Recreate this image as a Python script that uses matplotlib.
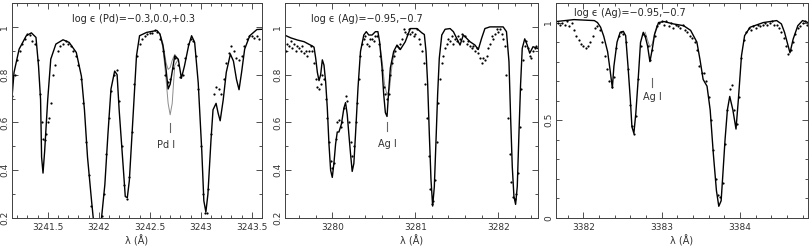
import numpy as np
import matplotlib.pyplot as plt
from matplotlib.ticker import MultipleLocator

# ------------------------------------------------------------
# Panel 1: Pd I 3242.7
# ------------------------------------------------------------
pd_syn_wl = [3241.143, 3241.17, 3241.22, 3241.29, 3241.34, 3241.385, 3241.41, 3241.43, 3241.44,
             3241.454, 3241.47, 3241.50, 3241.53, 3241.58, 3241.65, 3241.71, 3241.78, 3241.83,
             3241.86, 3241.89, 3241.93, 3241.96, 3241.99, 3242.025, 3242.06, 3242.09, 3242.12,
             3242.156, 3242.18, 3242.20, 3242.24, 3242.26, 3242.28, 3242.30, 3242.34, 3242.37,
             3242.40, 3242.47, 3242.57, 3242.60, 3242.63, 3242.66, 3242.68, 3242.70, 3242.745,
             3242.78, 3242.81, 3242.84, 3242.88, 3242.91, 3242.94, 3242.975, 3243.01, 3243.03,
             3243.05, 3243.07, 3243.10, 3243.12, 3243.15, 3243.17, 3243.19, 3243.22, 3243.25,
             3243.29, 3243.32, 3243.35, 3243.375, 3243.40, 3243.43, 3243.48, 3243.55, 3243.60]
pd_syn_fl = [0.667, 0.81, 0.907, 0.963, 0.975, 0.956, 0.836, 0.695, 0.455,
             0.388, 0.48, 0.695, 0.865, 0.928, 0.946, 0.935, 0.893, 0.794,
             0.653, 0.455, 0.27, 0.14, 0.10, 0.19, 0.34, 0.55, 0.74,
             0.815, 0.80, 0.653, 0.413, 0.29, 0.285, 0.357, 0.653, 0.879,
             0.963, 0.977, 0.985, 0.97, 0.92, 0.82, 0.74, 0.76, 0.879,
             0.864, 0.785, 0.836, 0.92, 0.963, 0.935, 0.766, 0.48, 0.272,
             0.225, 0.30, 0.526, 0.653, 0.68, 0.639, 0.607, 0.695, 0.81,
             0.886, 0.857, 0.78, 0.737, 0.81, 0.907, 0.963, 0.989, 0.99]
pd_hi_wl = [3242.60, 3242.63, 3242.66, 3242.68, 3242.70, 3242.72, 3242.745, 3242.78]
pd_hi_fl = [0.97, 0.91, 0.78, 0.68, 0.632, 0.68, 0.84, 0.864]
pd_lo_wl = [3242.60, 3242.63, 3242.66, 3242.68, 3242.70, 3242.72, 3242.745, 3242.78]
pd_lo_fl = [0.97, 0.93, 0.85, 0.822, 0.83, 0.86, 0.885, 0.864]
pd_obs_wl = [3241.15, 3241.175, 3241.20, 3241.225, 3241.25, 3241.275, 3241.30, 3241.325, 3241.35,
             3241.375, 3241.40, 3241.425, 3241.44, 3241.455, 3241.47, 3241.485, 3241.50, 3241.515,
             3241.53, 3241.55, 3241.575, 3241.60, 3241.625, 3241.65, 3241.675, 3241.70, 3241.725,
             3241.75, 3241.775, 3241.80, 3241.825, 3241.85, 3241.875, 3241.90, 3241.925, 3242.03,
             3242.05, 3242.075, 3242.10, 3242.125, 3242.15, 3242.175, 3242.20, 3242.225, 3242.25,
             3242.275, 3242.30, 3242.325, 3242.35, 3242.375, 3242.40, 3242.425, 3242.45, 3242.475,
             3242.50, 3242.525, 3242.55, 3242.575, 3242.60, 3242.625, 3242.65, 3242.675, 3242.70,
             3242.725, 3242.75, 3242.775, 3242.80, 3242.825, 3242.85, 3242.875, 3242.90, 3242.925,
             3242.95, 3242.975, 3243.00, 3243.025, 3243.04, 3243.06, 3243.075, 3243.10, 3243.125,
             3243.15, 3243.175, 3243.20, 3243.225, 3243.25, 3243.275, 3243.30, 3243.325, 3243.35,
             3243.375, 3243.40, 3243.425, 3243.45, 3243.475, 3243.50, 3243.525, 3243.55, 3243.575]
pd_obs_fl = [0.71, 0.80, 0.86, 0.90, 0.93, 0.95, 0.97, 0.965, 0.94,
             0.93, 0.86, 0.72, 0.60, 0.53, 0.525, 0.55, 0.60, 0.62,
             0.68, 0.80, 0.84, 0.90, 0.92, 0.93, 0.94, 0.93, 0.92,
             0.90, 0.88, 0.84, 0.78, 0.68, 0.52, 0.38, 0.25, 0.21,
             0.30, 0.47, 0.62, 0.73, 0.80, 0.82, 0.69, 0.50, 0.34,
             0.28, 0.37, 0.56, 0.76, 0.88, 0.93, 0.95, 0.96, 0.97,
             0.975, 0.975, 0.985, 0.98, 0.95, 0.90, 0.80, 0.77, 0.78,
             0.83, 0.87, 0.84, 0.79, 0.80, 0.87, 0.93, 0.95, 0.94,
             0.88, 0.74, 0.50, 0.30, 0.22, 0.22, 0.32, 0.55, 0.72,
             0.75, 0.74, 0.72, 0.78, 0.85, 0.89, 0.92, 0.90, 0.87,
             0.86, 0.88, 0.92, 0.95, 0.96, 0.96, 0.955, 0.96, 0.95]

# ------------------------------------------------------------
# Panel 2: Ag I 3280.7
# ------------------------------------------------------------
ag1_syn_wl = [3279.43, 3279.50, 3279.58, 3279.66, 3279.72, 3279.76, 3279.78, 3279.80, 3279.82,
              3279.84, 3279.86, 3279.88, 3279.90, 3279.92, 3279.94, 3279.96, 3279.98, 3280.00,
              3280.02, 3280.04, 3280.06, 3280.08, 3280.11, 3280.14, 3280.16, 3280.18, 3280.20,
              3280.22, 3280.24, 3280.26, 3280.28, 3280.31, 3280.34, 3280.38, 3280.41, 3280.44,
              3280.48, 3280.52, 3280.55, 3280.57, 3280.60, 3280.62, 3280.64, 3280.66, 3280.68,
              3280.70, 3280.74, 3280.78, 3280.82, 3280.88, 3280.94, 3281.02, 3281.08, 3281.11,
              3281.13, 3281.15, 3281.17, 3281.19, 3281.21, 3281.23, 3281.25, 3281.27, 3281.29,
              3281.32, 3281.36, 3281.42, 3281.46, 3281.50, 3281.54, 3281.58, 3281.62, 3281.66,
              3281.72, 3281.76, 3281.80, 3281.84, 3281.90, 3282.06, 3282.10, 3282.13, 3282.15,
              3282.17, 3282.19, 3282.21, 3282.23, 3282.25, 3282.27, 3282.29, 3282.32, 3282.35,
              3282.38, 3282.42, 3282.48]
ag1_syn_fl = [0.965, 0.954, 0.945, 0.938, 0.927, 0.92, 0.915, 0.869, 0.81,
              0.775, 0.80, 0.862, 0.84, 0.77, 0.66, 0.51, 0.40, 0.37,
              0.43, 0.51, 0.56, 0.56, 0.593, 0.66, 0.683, 0.634, 0.55,
              0.469, 0.395, 0.428, 0.55, 0.745, 0.897, 0.966, 0.98, 0.966,
              0.966, 0.98, 0.98, 0.938, 0.828, 0.717, 0.641, 0.625, 0.731,
              0.828, 0.897, 0.924, 0.905, 0.938, 0.993, 0.993, 0.975, 0.968,
              0.897, 0.76, 0.55, 0.36, 0.25, 0.33, 0.52, 0.717, 0.869,
              0.966, 0.99, 0.993, 0.98, 0.952, 0.924, 0.966, 0.952, 0.938,
              0.924, 0.905, 0.952, 0.993, 1.0, 1.0, 0.98, 0.855, 0.62,
              0.414, 0.29, 0.257, 0.331, 0.55, 0.759, 0.91, 0.95, 0.924,
              0.89, 0.917, 0.91]
ag1_alt_wl = [3280.57, 3280.60, 3280.63, 3280.66, 3280.69, 3280.72, 3280.75]
ag1_alt_fl = [0.938, 0.86, 0.76, 0.715, 0.74, 0.84, 0.895]
ag1_obs_wl = [3279.44, 3279.46, 3279.48, 3279.50, 3279.52, 3279.54, 3279.56, 3279.58, 3279.60,
              3279.62, 3279.64, 3279.66, 3279.68, 3279.70, 3279.72, 3279.74, 3279.76, 3279.78,
              3279.80, 3279.82, 3279.84, 3279.86, 3279.88, 3279.90, 3279.92, 3279.94, 3279.96,
              3279.98, 3280.00, 3280.02, 3280.04, 3280.06, 3280.08, 3280.10, 3280.12, 3280.14,
              3280.16, 3280.18, 3280.20, 3280.22, 3280.24, 3280.26, 3280.28, 3280.30, 3280.32,
              3280.34, 3280.36, 3280.38, 3280.40, 3280.42, 3280.44, 3280.46, 3280.48, 3280.50,
              3280.52, 3280.54, 3280.56, 3280.58, 3280.60, 3280.62, 3280.64, 3280.66, 3280.68,
              3280.70, 3280.72, 3280.74, 3280.76, 3280.78, 3280.80, 3280.82, 3280.84, 3280.86,
              3280.88, 3280.90, 3280.92, 3280.94, 3280.96, 3280.98, 3281.00, 3281.02, 3281.04,
              3281.06, 3281.08, 3281.10, 3281.12, 3281.14, 3281.16, 3281.18, 3281.20, 3281.22,
              3281.24, 3281.26, 3281.28, 3281.30, 3281.32, 3281.34, 3281.36, 3281.38, 3281.40,
              3281.42, 3281.44, 3281.46, 3281.48, 3281.50, 3281.52, 3281.54, 3281.56, 3281.58,
              3281.60, 3281.62, 3281.64, 3281.66, 3281.68, 3281.70, 3281.72, 3281.74, 3281.76,
              3281.78, 3281.80, 3281.82, 3281.84, 3281.86, 3281.88, 3281.90, 3281.92, 3281.94,
              3281.96, 3281.98, 3282.00, 3282.02, 3282.04, 3282.06, 3282.08, 3282.10, 3282.12,
              3282.14, 3282.16, 3282.18, 3282.20, 3282.22, 3282.24, 3282.26, 3282.28, 3282.30,
              3282.32, 3282.34, 3282.36, 3282.38, 3282.40, 3282.42, 3282.44, 3282.46, 3282.48]
ag1_obs_fl = [0.90, 0.93, 0.92, 0.94, 0.91, 0.93, 0.90, 0.92, 0.91,
              0.90, 0.92, 0.89, 0.90, 0.88, 0.90, 0.92, 0.90, 0.85,
              0.78, 0.75, 0.74, 0.76, 0.80, 0.78, 0.70, 0.62, 0.52,
              0.44, 0.41, 0.43, 0.53, 0.60, 0.61, 0.58, 0.60, 0.66,
              0.71, 0.69, 0.60, 0.52, 0.46, 0.50, 0.60, 0.68, 0.78,
              0.88, 0.93, 0.95, 0.96, 0.93, 0.92, 0.95, 0.95, 0.94,
              0.96, 0.96, 0.93, 0.88, 0.82, 0.75, 0.72, 0.70, 0.72,
              0.80, 0.85, 0.88, 0.90, 0.92, 0.91, 0.93, 0.95, 0.99,
              0.98, 0.97, 0.99, 0.97, 0.98, 0.96, 0.97, 0.99, 0.95,
              0.93, 0.90, 0.85, 0.76, 0.62, 0.46, 0.32, 0.26, 0.27,
              0.36, 0.52, 0.68, 0.78, 0.85, 0.88, 0.91, 0.93, 0.95,
              0.94, 0.96, 0.93, 0.95, 0.94, 0.96, 0.95, 0.97, 0.94,
              0.96, 0.93, 0.94, 0.92, 0.91, 0.92, 0.90, 0.91, 0.89,
              0.87, 0.85, 0.87, 0.86, 0.88, 0.91, 0.93, 0.96, 0.95,
              0.97, 0.99, 0.98, 0.99, 0.97, 0.95, 0.92, 0.80, 0.62,
              0.47, 0.35, 0.29, 0.28, 0.30, 0.39, 0.58, 0.74, 0.86,
              0.92, 0.94, 0.91, 0.88, 0.87, 0.90, 0.91, 0.92, 0.91]

# ------------------------------------------------------------
# Panel 3: Ag I 3382.9
# ------------------------------------------------------------
ag2_syn_wl = [3381.65, 3381.88, 3382.14, 3382.18, 3382.22, 3382.26, 3382.31, 3382.34, 3382.37,
              3382.39, 3382.43, 3382.47, 3382.51, 3382.54, 3382.57, 3382.60, 3382.62, 3382.645,
              3382.67, 3382.70, 3382.73, 3382.765, 3382.79, 3382.82, 3382.85, 3382.88, 3382.91,
              3382.96, 3383.03, 3383.15, 3383.28, 3383.37, 3383.45, 3383.49, 3383.53, 3383.58,
              3383.62, 3383.66, 3383.70, 3383.73, 3383.76, 3383.78, 3383.81, 3383.84, 3383.87,
              3383.91, 3383.95, 3383.98, 3384.02, 3384.06, 3384.13, 3384.30, 3384.47, 3384.53,
              3384.57, 3384.61, 3384.64, 3384.68, 3384.74, 3384.80, 3384.87]
ag2_syn_fl = [1.005, 1.015, 1.01, 1.0, 0.976, 0.93, 0.85, 0.76, 0.665,
              0.777, 0.90, 0.95, 0.955, 0.933, 0.777, 0.605, 0.467, 0.433,
              0.536, 0.709, 0.898, 0.95, 0.93, 0.88, 0.80, 0.864, 0.94,
              1.0, 1.005, 0.993, 0.984, 0.96, 0.90, 0.81, 0.709, 0.674,
              0.553, 0.33, 0.14, 0.06, 0.088, 0.21, 0.40, 0.553, 0.622,
              0.553, 0.455, 0.605, 0.83, 0.933, 0.976, 1.0, 1.01, 0.993,
              0.95, 0.89, 0.845, 0.915, 0.984, 1.01, 1.0]
ag2_alt_wl = [3382.79, 3382.82, 3382.85, 3382.88, 3382.91, 3382.94]
ag2_alt_fl = [0.95, 0.91, 0.875, 0.89, 0.945, 0.985]
ag2_obs_wl = [3381.67, 3381.70, 3381.73, 3381.76, 3381.79, 3381.82, 3381.85, 3381.88, 3381.91,
              3381.94, 3381.97, 3382.00, 3382.03, 3382.06, 3382.09, 3382.12, 3382.15, 3382.18,
              3382.21, 3382.24, 3382.27, 3382.30, 3382.33, 3382.36, 3382.39, 3382.42, 3382.45,
              3382.48, 3382.51, 3382.54, 3382.57, 3382.60, 3382.62, 3382.645, 3382.67, 3382.70,
              3382.73, 3382.76, 3382.79, 3382.82, 3382.85, 3382.88, 3382.91, 3382.94, 3382.97,
              3383.00, 3383.03, 3383.06, 3383.09, 3383.12, 3383.15, 3383.18, 3383.21, 3383.24,
              3383.27, 3383.30, 3383.33, 3383.36, 3383.39, 3383.42, 3383.45, 3383.48, 3383.51,
              3383.54, 3383.57, 3383.60, 3383.63, 3383.66, 3383.69, 3383.72, 3383.75, 3383.78,
              3383.81, 3383.84, 3383.87, 3383.90, 3383.93, 3383.96, 3383.99, 3384.02, 3384.05,
              3384.08, 3384.11, 3384.14, 3384.17, 3384.20, 3384.23, 3384.26, 3384.29, 3384.32,
              3384.35, 3384.38, 3384.41, 3384.44, 3384.47, 3384.50, 3384.53, 3384.56, 3384.59,
              3384.62, 3384.65, 3384.68, 3384.71, 3384.74, 3384.77, 3384.80, 3384.83, 3384.86]
ag2_obs_fl = [1.0, 0.99, 1.0, 0.99, 1.01, 0.98, 1.0, 0.96, 0.93,
              0.91, 0.89, 0.88, 0.87, 0.88, 0.90, 0.93, 0.97, 0.98,
              0.96, 0.90, 0.83, 0.76, 0.70, 0.67, 0.72, 0.87, 0.93,
              0.95, 0.94, 0.90, 0.76, 0.58, 0.47, 0.43, 0.52, 0.71,
              0.88, 0.94, 0.93, 0.88, 0.81, 0.86, 0.93, 0.98, 1.0,
              1.01, 0.99, 1.01, 0.98, 1.0, 0.97, 0.99, 0.98, 0.97,
              0.99, 0.96, 0.95, 0.93, 0.92, 0.90, 0.86, 0.78, 0.74,
              0.74, 0.70, 0.62, 0.50, 0.35, 0.20, 0.12, 0.11, 0.18,
              0.38, 0.55, 0.66, 0.68, 0.55, 0.48, 0.62, 0.82, 0.91,
              0.95, 0.97, 0.96, 0.98, 0.97, 0.99, 0.98, 0.99, 1.0,
              0.99, 1.0, 1.01, 0.99, 0.99, 0.97, 0.95, 0.92, 0.88,
              0.84, 0.86, 0.90, 0.94, 0.97, 0.98, 1.0, 1.01, 0.99]

panels = [
    dict(syn=(pd_syn_wl, pd_syn_fl), alts=[(pd_hi_wl, pd_hi_fl), (pd_lo_wl, pd_lo_fl)],
         obs=(pd_obs_wl, pd_obs_fl), xlim=(3241.15, 3243.6), ylim=(0.2, 1.1),
         xmaj=0.5, xmin=0.1, ymaj=0.2, ymin=0.1,
         title='log \u03f5 (Pd)=\u22120.3,0.0,+0.3', tpos=(3242.34, 1.034),
         line='Pd I', lwl=3242.70, lfl=(0.561, 0.596), lpos=(3242.66, 0.505)),
    dict(syn=(ag1_syn_wl, ag1_syn_fl), alts=[(ag1_alt_wl, ag1_alt_fl)],
         obs=(ag1_obs_wl, ag1_obs_fl), xlim=(3279.43, 3282.48), ylim=(0.2, 1.1),
         xmaj=1.0, xmin=0.2, ymaj=0.2, ymin=0.1,
         title='log \u03f5 (Ag)=\u22120.95,\u22120.7', tpos=(3280.42, 1.034),
         line='Ag I', lwl=3280.66, lfl=(0.565, 0.60), lpos=(3280.66, 0.51)),
    dict(syn=(ag2_syn_wl, ag2_syn_fl), alts=[(ag2_alt_wl, ag2_alt_fl)],
         obs=(ag2_obs_wl, ag2_obs_fl), xlim=(3381.65, 3384.87), ylim=(0.0, 1.1),
         xmaj=1.0, xmin=0.2, ymaj=0.5, ymin=0.1,
         title='log \u03f5 (Ag)=\u22120.95,\u22120.7', tpos=(3382.6, 1.05),
         line='Ag I', lwl=3382.88, lfl=(0.67, 0.717), lpos=(3382.88, 0.62)),
]

lefts = [12, 285, 556]
rights = [262, 538, 808]

fig = plt.figure(figsize=(8.1, 2.49), dpi=100)
for p, l, r in zip(panels, lefts, rights):
    ax = fig.add_axes([l / 810, 1 - 218 / 249, (r - l) / 810, 215 / 249])
    for wl, fl in p['alts']:
        ax.plot(wl, fl, color='0.55', lw=0.7)
    ax.plot(*p['syn'], color='black', lw=1.0)
    ax.plot(*p['obs'], ls='none', marker='o', ms=1.6, mfc='black', mec='black', mew=0)
    ax.set_xlim(p['xlim'])
    ax.set_ylim(p['ylim'])
    ax.xaxis.set_major_locator(MultipleLocator(p['xmaj']))
    ax.xaxis.set_minor_locator(MultipleLocator(p['xmin']))
    ax.yaxis.set_major_locator(MultipleLocator(p['ymaj']))
    ax.yaxis.set_minor_locator(MultipleLocator(p['ymin']))
    ax.xaxis.set_major_formatter(plt.FuncFormatter(lambda v, pos: f'{v:g}'))
    ax.yaxis.set_major_formatter(plt.FuncFormatter(lambda v, pos: f'{v:g}'))
    ax.tick_params(which='both', direction='in', top=True, right=True,
                   labelsize=6.5, colors='0.2', width=0.6)
    ax.tick_params(which='major', length=4)
    ax.tick_params(which='minor', length=2)
    ax.tick_params(axis='y', labelrotation=90, pad=2)
    for lab in ax.get_yticklabels():
        lab.set_verticalalignment('center')
    for s in ax.spines.values():
        s.set_linewidth(0.7)
        s.set_color('0.25')
    ax.set_xlabel('λ (Å)', fontsize=7, color='0.2', labelpad=2)
    ax.text(*p['tpos'], p['title'], fontsize=7, ha='center', va='center', color='0.15')
    ax.plot([p['lwl'], p['lwl']], p['lfl'], color='0.4', lw=0.8)
    ax.text(*p['lpos'], p['line'], fontsize=7, ha='center', va='center', color='0.2')

fig.savefig('out.png', dpi=100)
